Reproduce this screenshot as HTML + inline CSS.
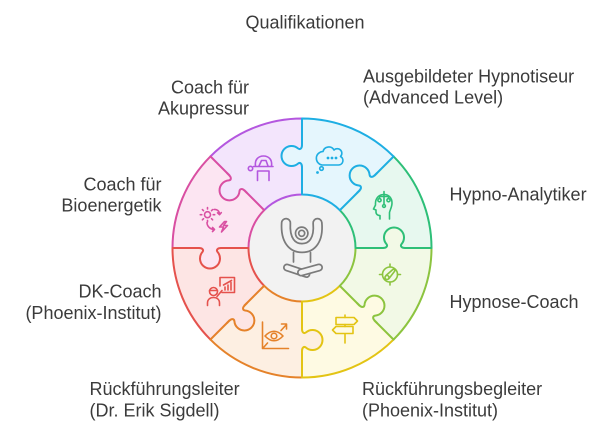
<!DOCTYPE html>
<html><head><meta charset="utf-8"><style>
html,body{margin:0;padding:0;background:#fff;}
svg{display:block;}
text{font-family:"Liberation Sans",Arial,sans-serif;font-size:18px;fill:#3b3b3b;}
</style></head><body>
<svg width="605" height="433" viewBox="0 0 605 433" xmlns="http://www.w3.org/2000/svg">
<rect width="605" height="433" fill="#fff"/>
<circle cx="302" cy="248" r="54" fill="#f2f2f2"/>
<g stroke-width="2" stroke-linejoin="round">
<path d="M264.17,210.17 L210.43,156.43 A129.5 129.5 0 0 1 302,118.5 L302,194.5 A53.5 53.5 0 0 0 264.17,210.17 Z" fill="#f3e5fc" stroke="#b457df"/>
<path d="M248.5,248 L172.5,248 A129.5 129.5 0 0 1 210.43,156.43 L264.17,210.17 A53.5 53.5 0 0 0 248.5,248 Z" fill="#fce5f2" stroke="#d94fa2"/>
<path d="M264.17,285.83 L210.43,339.57 A129.5 129.5 0 0 1 172.5,248 L248.5,248 A53.5 53.5 0 0 0 264.17,285.83 Z" fill="#fde5e4" stroke="#e5524d"/>
<path d="M302,301.5 L302,377.5 A129.5 129.5 0 0 1 210.43,339.57 L264.17,285.83 A53.5 53.5 0 0 0 302,301.5 Z" fill="#fdefe2" stroke="#e5822a"/>
<path d="M339.83,285.83 L393.57,339.57 A129.5 129.5 0 0 1 302,377.5 L302,301.5 A53.5 53.5 0 0 0 339.83,285.83 Z" fill="#fefae3" stroke="#e3c414"/>
<path d="M355.5,248 L431.5,248 A129.5 129.5 0 0 1 393.57,339.57 L339.83,285.83 A53.5 53.5 0 0 0 355.5,248 Z" fill="#f2f9e6" stroke="#8cc43f"/>
<path d="M339.83,210.17 L393.57,156.43 A129.5 129.5 0 0 1 431.5,248 L355.5,248 A53.5 53.5 0 0 0 339.83,210.17 Z" fill="#e7f8ef" stroke="#2ebf78"/>
<path d="M302,194.5 L302,118.5 A129.5 129.5 0 0 1 393.57,156.43 L339.83,210.17 A53.5 53.5 0 0 0 302,194.5 Z" fill="#e5f6fd" stroke="#1eaee3"/>
</g>
<!-- knobs -->
<g stroke-width="2" stroke-linejoin="round" stroke-linecap="round">
<g transform="translate(302,156) rotate(-90)">
<path d="M-11,0 C-7.5,0 -6,-2 -7.6,-4 A10 10 0 1 1 7.6,-4 C6,-2 7.5,0 11,0 L10,1.6 L-10,1.6 Z" fill="#e5f6fd" stroke="none"/>
<path d="M-14,0 L-11,0 C-7.5,0 -6,-2 -7.6,-4 A10 10 0 1 1 7.6,-4 C6,-2 7.5,0 11,0 L14,0" fill="none" stroke="#1eaee3"/>
</g>
<g transform="translate(367.05,182.95) rotate(-45)">
<path d="M-11,0 C-7.5,0 -6,-2 -7.6,-4 A10 10 0 1 1 7.6,-4 C6,-2 7.5,0 11,0 L10,1.6 L-10,1.6 Z" fill="#e7f8ef" stroke="none"/>
<path d="M-14,0 L-11,0 C-7.5,0 -6,-2 -7.6,-4 A10 10 0 1 1 7.6,-4 C6,-2 7.5,0 11,0 L14,0" fill="none" stroke="#1eaee3"/>
</g>
<g transform="translate(394,248) rotate(0)">
<path d="M-11,0 C-7.5,0 -6,-2 -7.6,-4 A10 10 0 1 1 7.6,-4 C6,-2 7.5,0 11,0 L10,1.6 L-10,1.6 Z" fill="#f2f9e6" stroke="none"/>
<path d="M-14,0 L-11,0 C-7.5,0 -6,-2 -7.6,-4 A10 10 0 1 1 7.6,-4 C6,-2 7.5,0 11,0 L14,0" fill="none" stroke="#2ebf78"/>
</g>
<g transform="translate(367.05,313.05) rotate(45)">
<path d="M-11,0 C-7.5,0 -6,-2 -7.6,-4 A10 10 0 1 1 7.6,-4 C6,-2 7.5,0 11,0 L10,1.6 L-10,1.6 Z" fill="#fefae3" stroke="none"/>
<path d="M-14,0 L-11,0 C-7.5,0 -6,-2 -7.6,-4 A10 10 0 1 1 7.6,-4 C6,-2 7.5,0 11,0 L14,0" fill="none" stroke="#8cc43f"/>
</g>
<g transform="translate(302,340) rotate(90)">
<path d="M-11,0 C-7.5,0 -6,-2 -7.6,-4 A10 10 0 1 1 7.6,-4 C6,-2 7.5,0 11,0 L10,1.6 L-10,1.6 Z" fill="#fdefe2" stroke="none"/>
<path d="M-14,0 L-11,0 C-7.5,0 -6,-2 -7.6,-4 A10 10 0 1 1 7.6,-4 C6,-2 7.5,0 11,0 L14,0" fill="none" stroke="#e3c414"/>
</g>
<g transform="translate(236.95,313.05) rotate(135)">
<path d="M-11,0 C-7.5,0 -6,-2 -7.6,-4 A10 10 0 1 1 7.6,-4 C6,-2 7.5,0 11,0 L10,1.6 L-10,1.6 Z" fill="#fde5e4" stroke="none"/>
<path d="M-14,0 L-11,0 C-7.5,0 -6,-2 -7.6,-4 A10 10 0 1 1 7.6,-4 C6,-2 7.5,0 11,0 L14,0" fill="none" stroke="#e5822a"/>
</g>
<g transform="translate(210,248) rotate(180)">
<path d="M-11,0 C-7.5,0 -6,-2 -7.6,-4 A10 10 0 1 1 7.6,-4 C6,-2 7.5,0 11,0 L10,1.6 L-10,1.6 Z" fill="#fce5f2" stroke="none"/>
<path d="M-14,0 L-11,0 C-7.5,0 -6,-2 -7.6,-4 A10 10 0 1 1 7.6,-4 C6,-2 7.5,0 11,0 L14,0" fill="none" stroke="#e5524d"/>
</g>
<g transform="translate(236.95,182.95) rotate(225)">
<path d="M-11,0 C-7.5,0 -6,-2 -7.6,-4 A10 10 0 1 1 7.6,-4 C6,-2 7.5,0 11,0 L10,1.6 L-10,1.6 Z" fill="#f3e5fc" stroke="none"/>
<path d="M-14,0 L-11,0 C-7.5,0 -6,-2 -7.6,-4 A10 10 0 1 1 7.6,-4 C6,-2 7.5,0 11,0 L14,0" fill="none" stroke="#d94fa2"/>
</g>
</g>

<!-- icons -->
<g fill="none" stroke-width="1.6" stroke-linecap="round" stroke-linejoin="round">
<!-- blue bubble -->
<g stroke="#1eaee3">
<path d="M322,165 H338.5 A4.5 4.5 0 0 0 340.5,156.5 A4.5 4.5 0 0 0 334,150 A6 6 0 0 0 323,151.5 A6.8 6.8 0 0 0 322,165 Z"/>
<circle cx="321.5" cy="168.5" r="1.8"/>
<circle cx="317.5" cy="172.5" r="0.6" fill="#1eaee3"/>
<circle cx="328" cy="158" r="0.6" fill="#1eaee3"/>
<circle cx="332" cy="158" r="0.6" fill="#1eaee3"/>
<circle cx="336" cy="158" r="0.6" fill="#1eaee3"/>
</g>
<!-- green head -->
<g stroke="#2ebf78">
<path d="M380,219 L380,215.5 C378,215.5 376,214.5 376,212 L376,210 L373.5,209 L375.5,205 C375,198 379,194.5 384,194.5 C389,194.5 392,198 392,203 C392,207 390,210 389.5,212.5 L389.5,219"/>
<path d="M384,191.5 V204.5 M379.5,196.5 H388.5 M379.5,196.5 V198.5 M388.5,196.5 V198.5"/>
<circle cx="379.5" cy="200.2" r="1.6"/>
<circle cx="388.5" cy="200.2" r="1.6"/>
<circle cx="384" cy="206" r="1.4"/>
</g>
<!-- lime gauge -->
<g stroke="#8cc43f">
<circle cx="390" cy="274.5" r="7.5"/>
<path d="M390,264 V267 M390,282 V285 M379.5,274.5 H382.5 M397.5,274.5 H400.5"/>
<circle cx="387" cy="277.5" r="2"/>
<path d="M386,275.5 L392.8,269.5 A1.3 1.3 0 0 1 394.6,271.3 L389,278.5"/>
</g>
<!-- yellow signpost -->
<g stroke="#e3c414">
<path d="M336,317.5 H354 L357.5,321 L354,324.5 H336 Z"/>
<path d="M353,326.5 H336 L332.5,330 L336,333.5 H353 Z"/>
<path d="M345,334 V343 M345,315 V317.5 M345,324.5 V326.5"/>
</g>
<!-- orange eye chart -->
<g stroke="#e5822a">
<path d="M262.5,322 V348.5 H288.5"/>
<path d="M263.5,347.5 L267.5,343 M281,330.5 L286.5,324.5 M281.5,324 H286.5 V329"/>
<path d="M265,336 Q274,326.5 283,336 Q274,345.5 265,336 Z"/>
<circle cx="274" cy="336" r="2.8"/>
</g>
<!-- red presenter -->
<g stroke="#e5524d">
<path d="M220,286 V277.5 H234.5 V292.5 H222"/>
<path d="M225,290 V287 M228,290 V285 M231,290 V282.5 M223.5,285 L231.5,280.5"/>
<circle cx="213.5" cy="291.5" r="4"/>
<path d="M209.5,290.5 H217.5"/>
<path d="M207.5,305.5 V303 C207.5,299.5 210,297.5 213.5,297.5 C217,297.5 219.5,299.5 219.5,303 V305.5"/>
<path d="M217,296.5 L222,290.5"/>
</g>
<!-- pink sun lightning -->
<g stroke="#d94fa2">
<circle cx="207.5" cy="214.7" r="3"/>
<path d="M207.5,209 V207.5 M207.5,220.4 V221.9 M201.8,214.7 H200.3 M213.2,214.7 H214.7 M203.5,210.7 L202.4,209.6 M211.5,218.7 L212.6,219.8 M203.5,218.7 L202.4,219.8 M211.5,210.7 L212.6,209.6"/>
<path d="M214,209.5 C217,209 219.5,211 219.5,214.5 M217.5,212.8 L219.5,214.7 L221.3,212.6"/>
<path d="M207,222.5 C207,226.5 210.5,229.5 214.5,229.5 M212.5,227.5 L214.5,229.5 L212.5,231.5"/>
<path d="M224.5,221.5 L219.5,227 H223.5 L221.5,232 L227.5,225.5 H223.5 L226.5,221.5 Z"/>
</g>
<!-- purple acupressure -->
<g stroke="#b457df">
<path d="M255.5,166 C254.5,159.5 258.5,156 263.5,156 C268.5,156 272.5,159.5 271.5,166"/>
<path d="M253.5,166.5 H273"/>
<path d="M257.5,180.5 V171 H269 V180.5"/>
<path d="M259,166 L261.5,160.5 H266 L268,166"/>
<circle cx="250.5" cy="168.5" r="2.2"/>
</g>
</g>

<!-- center icon -->
<g fill="none" stroke-linecap="round" stroke-linejoin="round">
<path d="M286,223 C285,240 292,248 302,248 C312,248 319,240 317.5,223" stroke="#7b7b7b" stroke-width="10.5"/>
<path d="M286,223 C285,240 292,248 302,248 C312,248 319,240 317.5,223" stroke="#f2f2f2" stroke-width="7"/>
<path d="M293.5,252.5 V262 M310.5,252.5 V262" stroke="#7b7b7b" stroke-width="1.7"/>
<path d="M287,267.5 L306.5,274" stroke="#7b7b7b" stroke-width="8"/>
<path d="M287,267.5 L306.5,274" stroke="#f2f2f2" stroke-width="4.6"/>
<path d="M301,272.5 L319,267.5" stroke="#7b7b7b" stroke-width="8"/>
<path d="M301,272.5 L319,267.5" stroke="#f2f2f2" stroke-width="4.6"/>
<circle cx="301.7" cy="233.3" r="6.2" stroke="#7b7b7b" stroke-width="1.7"/>
<circle cx="301.7" cy="233.3" r="3" stroke="#7b7b7b" stroke-width="1.7"/>
</g>

<!-- labels -->
<text x="305" y="28.5" text-anchor="middle">Qualifikationen</text>
<text x="249" y="93.5" text-anchor="end">Coach für</text>
<text x="249" y="114.5" text-anchor="end">Akupressur</text>
<text x="363" y="82.7">Ausgebildeter Hypnotiseur</text>
<text x="363" y="103.5">(Advanced Level)</text>
<text x="449.5" y="200.5">Hypno-Analytiker</text>
<text x="449.5" y="308">Hypnose-Coach</text>
<text x="161.5" y="190.7" text-anchor="end">Coach für</text>
<text x="161.5" y="211.7" text-anchor="end">Bioenergetik</text>
<text x="161.5" y="297.7" text-anchor="end">DK-Coach</text>
<text x="161.5" y="319" text-anchor="end">(Phoenix-Institut)</text>
<text x="89.5" y="395">Rückführungsleiter</text>
<text x="89.5" y="416.5">(Dr. Erik Sigdell)</text>
<text x="362" y="395">Rückführungsbegleiter</text>
<text x="362" y="416.5">(Phoenix-Institut)</text>
</svg>
</body></html>
